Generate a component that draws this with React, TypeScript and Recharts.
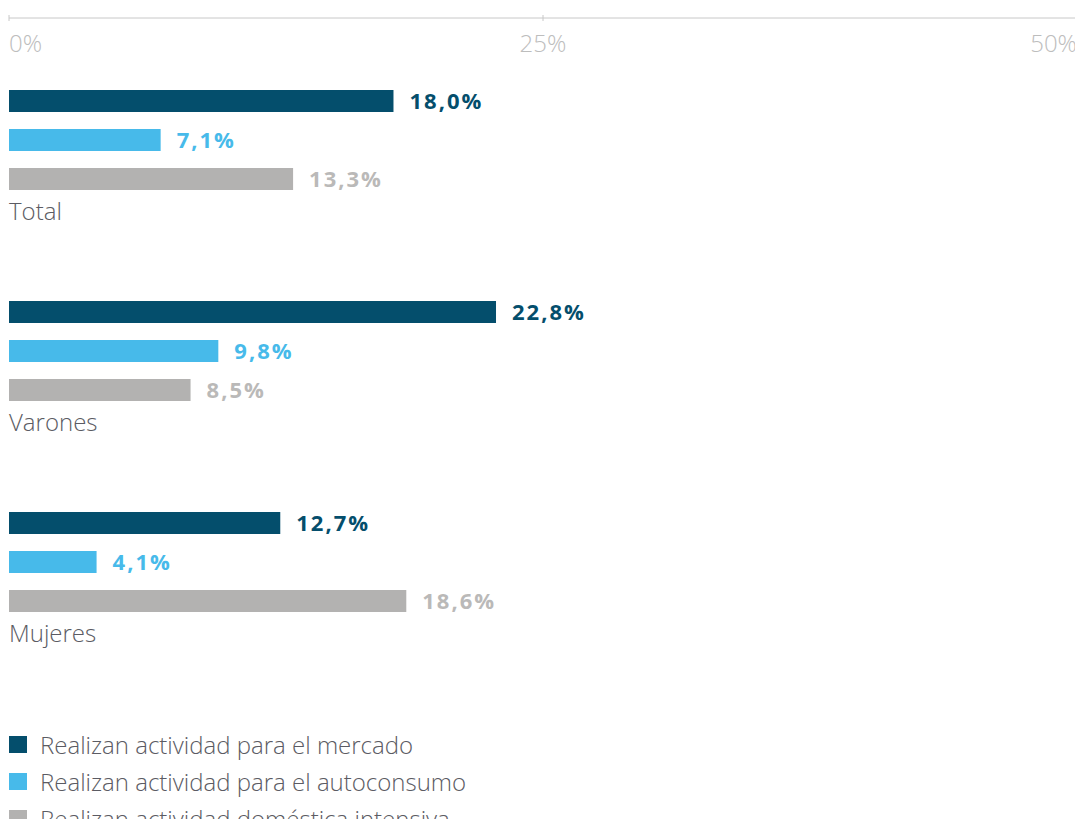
import React from 'react';
import { BarChart, Bar, XAxis, YAxis, Legend, LabelList } from 'recharts';

const categories = ['Total', 'Varones', 'Mujeres'];
const mercado = [18.0, 22.8, 12.7];
const autoconsumo = [7.1, 9.8, 4.1];
const domestica = [13.3, 8.5, 18.6];
const axisTicks = [0, 25, 50];
const seriesNames = [
  'Realizan actividad para el mercado',
  'Realizan actividad para el autoconsumo',
  'Realizan actividad doméstica intensiva',
];
const seriesKeys = ['mercado', 'autoconsumo', 'domestica'];
const seriesColors = ['#044E6C', '#47BAEA', '#B3B2B1'];
const labelColors = ['#044E6C', '#47BAEA', '#BAB9B8'];

const data = categories.map((c, i) => ({
  name: c,
  mercado: mercado[i],
  autoconsumo: autoconsumo[i],
  domestica: domestica[i],
}));

const FONT = '"Open Sans", sans-serif';
const TEXT_GRAY = '#5B5B63';

const fmt = (v: any) => `${Number(v).toFixed(1).replace('.', ',')}%`;

const XTick = (props: any) => {
  const { x, y, payload, index } = props;
  const anchor = index === 0 ? 'start' : index === axisTicks.length - 1 ? 'end' : 'middle';
  return (
    <g>
      <line x1={x} x2={x} y1={y - 3} y2={y + 3} stroke="#C8C8C8" strokeWidth={1} />
      <text
        x={x}
        y={y + 34}
        textAnchor={anchor}
        fill="#BDBDBD"
        fontFamily={FONT}
        fontWeight={300}
        fontSize={24}
      >
        {`${payload.value}%`}
      </text>
    </g>
  );
};

const YTick = (props: any) => {
  const { x, y, payload } = props;
  return (
    <text x={x} y={y + 80} textAnchor="start" fill={TEXT_GRAY} fontFamily={FONT} fontWeight={300} fontSize={24}>
      {payload.value}
    </text>
  );
};

const LegendContent = () => (
  <div style={{ height: 101, overflow: 'hidden', fontFamily: FONT }}>
    {seriesNames.map((n, i) => (
      <div key={n} style={{ height: 37, display: 'flex', alignItems: 'center' }}>
        <span
          style={{ display: 'inline-block', width: 18, height: 17, background: seriesColors[i], marginRight: 13 }}
        />
        <span style={{ fontSize: 24, fontWeight: 300, color: TEXT_GRAY, lineHeight: '37px', whiteSpace: 'nowrap' }}>
          {n}
        </span>
      </div>
    ))}
  </div>
);

export default function App() {
  return (
    <div style={{ width: 1075, height: 811, overflow: 'visible' }}>
      <BarChart
        width={1075}
        height={819}
        data={data}
        layout="vertical"
        margin={{ top: 10, right: 6, bottom: 0, left: 1 }}
        barSize={22}
        barGap={17}
      >
        <XAxis
          type="number"
          orientation="top"
          mirror
          domain={[0, 50]}
          ticks={axisTicks}
          interval={0}
          tickSize={0}
          tickMargin={0}
          height={30}
          stroke="#C8C8C8"
          axisLine={{ stroke: '#C8C8C8' }}
          tickLine={false}
          tick={<XTick />}
        />
        <YAxis
          type="category"
          dataKey="name"
          mirror
          width={200}
          tickSize={0}
          tickMargin={0}
          axisLine={false}
          tickLine={false}
          padding={{ top: 16, bottom: 59 }}
          tick={<YTick />}
          interval={0}
        />
        <Legend
          verticalAlign="bottom"
          align="left"
          layout="horizontal"
          content={<LegendContent />}
          wrapperStyle={{ left: 1 }}
        />
        {seriesKeys.map((k, i) => (
          <Bar key={k} dataKey={k} name={seriesNames[i]} fill={seriesColors[i]} isAnimationActive={false}>
            <LabelList
              dataKey={k}
              position="right"
              offset={16}
              formatter={fmt}
              fill={labelColors[i]}
              fontFamily={FONT}
              fontWeight={700}
              fontSize={22}
              letterSpacing={2}
            />
          </Bar>
        ))}
      </BarChart>
    </div>
  );
}
